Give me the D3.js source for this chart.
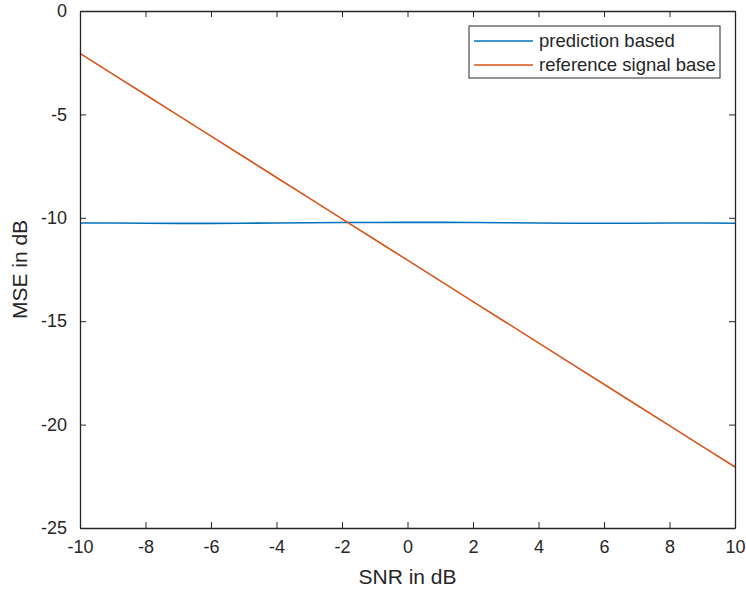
<!DOCTYPE html>
<html>
<head>
<meta charset="utf-8">
<script src="https://cdn.jsdelivr.net/npm/d3@7"></script>
<style>
  body { margin: 0; background: #fff; }
  text { font-family: "Liberation Sans", Arial, sans-serif; fill: #262626; }
  .axis path, .axis line { stroke: #262626; }
</style>
</head>
<body>
<div id="chart"></div>
<script>
(function(){

// data
var snr = [-10, -9, -8, -7, -6, -5, -4, -3, -2, -1, 0, 1, 2, 3, 4, 5, 6, 7, 8, 9, 10];
var predictionMse = [-10.25, -10.25, -10.26, -10.27, -10.27, -10.26, -10.25, -10.24, -10.23, -10.23, -10.22,
                     -10.22, -10.23, -10.24, -10.25, -10.26, -10.26, -10.26, -10.25, -10.25, -10.26];
var referenceMse = [-2.05, -3.05, -4.05, -5.05, -6.05, -7.05, -8.05, -9.05, -10.05, -11.05, -12.05,
                    -13.05, -14.05, -15.05, -16.05, -17.05, -18.05, -19.05, -20.05, -21.05, -22.05];
var seriesNames = ["prediction based", "reference signal base"];
var seriesColors = ["#0072BD", "#D95319"];
var xTicks = [-10, -8, -6, -4, -2, 0, 2, 4, 6, 8, 10];
var yTicks = [-25, -20, -15, -10, -5, 0];

var margin = {top: 11, right: 11, bottom: 67, left: 80},
    width = 746 - margin.left - margin.right,
    height = 595 - margin.top - margin.bottom;

var x = d3.scaleLinear().domain([-10, 10]).range([0, width]);
var y = d3.scaleLinear().domain([-25, 0]).range([height, 0]);

// plain hyphen minus like the original figure
var fmt = function(d) { return String(d); };

var svg = d3.select("#chart").append("svg")
    .attr("width", 746)
    .attr("height", 595)
  .append("g")
    .attr("transform", "translate(" + margin.left + "," + margin.top + ")");

var line = d3.line()
    .x(function(d) { return x(d[0]); })
    .y(function(d) { return y(d[1]); });

var series = [predictionMse, referenceMse];
series.forEach(function(vals, i) {
  svg.append("path")
      .datum(snr.map(function(s, j) { return [s, vals[j]]; }))
      .attr("fill", "none")
      .attr("stroke", seriesColors[i])
      .attr("stroke-width", 1.6)
      .attr("d", line);
});

// axes, ticks pointing inward, box on
var tickLen = 6;
svg.append("g").attr("class", "axis")
    .attr("transform", "translate(0," + height + ")")
    .call(d3.axisBottom(x).tickValues(xTicks).tickFormat(fmt).tickSizeInner(-tickLen).tickSizeOuter(0).tickPadding(12))
    .call(function(g) { g.selectAll("text").style("font-size", "18px"); });
svg.append("g").attr("class", "axis")
    .call(d3.axisTop(x).tickValues(xTicks).tickSizeInner(-tickLen).tickSizeOuter(0).tickFormat(""));
svg.append("g").attr("class", "axis")
    .call(d3.axisLeft(y).tickValues(yTicks).tickFormat(fmt).tickSizeInner(-tickLen).tickSizeOuter(0).tickPadding(13))
    .call(function(g) { g.selectAll("text").style("font-size", "18px"); });
svg.append("g").attr("class", "axis")
    .attr("transform", "translate(" + width + ",0)")
    .call(d3.axisRight(y).tickValues(yTicks).tickSizeInner(-tickLen).tickSizeOuter(0).tickFormat(""));
svg.selectAll(".axis path").attr("stroke-width", 1.3);

svg.append("text")
    .attr("x", width / 2)
    .attr("y", height + 56)
    .attr("text-anchor", "middle")
    .style("font-size", "21px")
    .text("SNR in dB");

svg.append("text")
    .attr("transform", "translate(" + (-53) + "," + (height / 2) + ") rotate(-90)")
    .attr("text-anchor", "middle")
    .style("font-size", "21px")
    .text("MSE in dB");

// legend
var legend = svg.append("g")
    .attr("transform", "translate(" + (x(10) - 266) + ",15)");
legend.append("rect")
    .attr("width", 251)
    .attr("height", 52)
    .attr("fill", "#fff")
    .attr("stroke", "#262626")
    .attr("stroke-width", 1);
seriesNames.forEach(function(name, i) {
  var row = legend.append("g").attr("transform", "translate(0," + (15 + i * 24) + ")");
  row.append("line")
      .attr("x1", 5).attr("x2", 64)
      .attr("stroke", seriesColors[i])
      .attr("stroke-width", 1.6);
  row.append("text")
      .attr("x", 70)
      .attr("dy", "0.35em")
      .style("font-size", "18.5px")
      .text(name);
});

})();
</script>
</body>
</html>
